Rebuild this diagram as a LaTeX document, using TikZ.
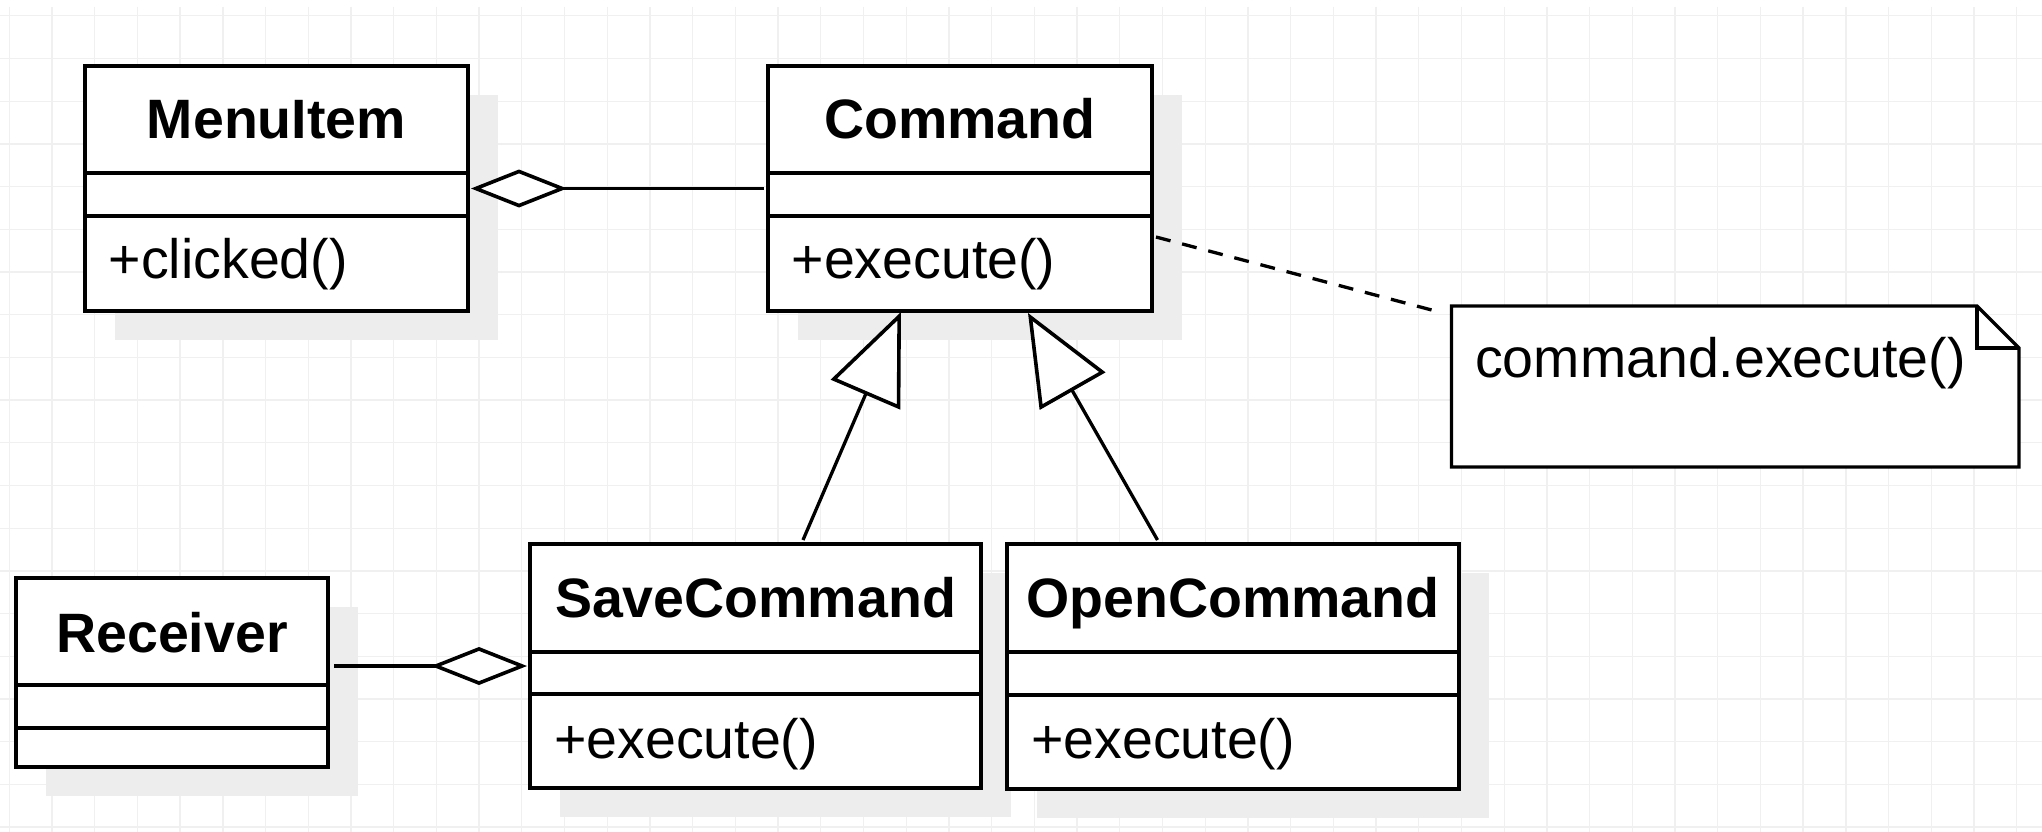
\documentclass[tikz,border=0pt]{standalone}
\usepackage{fontspec}
\setmainfont{Liberation Sans}
\usetikzlibrary{arrows.meta,shadows}

\begin{document}
\begin{tikzpicture}[x=1pt,y=-1pt,
  gridline/.style={draw=black!6, line width=1.3pt},
  classbox/.style={draw=black, line width=3.4pt, fill=white, rectangle,
    inner sep=0pt, outer sep=0pt, anchor=north west,
    drop shadow={shadow xshift=30pt, shadow yshift=-29pt, fill=black!7, opacity=1}},
  divider/.style={line width=3.4pt},
  titletext/.style={font=\fontsize{55.5}{62}\selectfont\bfseries, inner sep=0pt, anchor=base},
  optext/.style={font=\fontsize{55.5}{62}\selectfont, inner sep=0pt, anchor=base west},
  aggr/.style={line width=3.3pt,
    -{Diamond[open, fill=white, length=96pt, width=38pt, line width=3.6pt]}},
  gen/.style={line width=3.3pt,
    -{Triangle[open, fill=white, length=90pt, width=75pt, line width=3.6pt]}},
  noteline/.style={line width=3.3pt, dash pattern=on 15pt off 12pt},
  notebox/.style={draw=black, line width=3.4pt, fill=white, line join=miter}
]
\useasboundingbox (0,0) rectangle (2042,832);
\fill[white] (0,0) rectangle (2042,832);

% background grid
\foreach \i in {0,...,47}
  \draw[gridline] (9.3+42.71*\i,7) -- (9.3+42.71*\i,832);
\foreach \j in {0,...,19}
  \draw[gridline] (0,15.8+42.7*\j) -- (2042,15.8+42.7*\j);

% MenuItem
\node[classbox, minimum width=383pt, minimum height=245pt] (menu) at (85,66) {};
\draw[divider] (menu.west |- 0,173) -- (menu.east |- 0,173);
\draw[divider] (menu.west |- 0,216) -- (menu.east |- 0,216);
\node[titletext] (menu-title) at (276.5,139) {MenuItem};
\node[optext] (menu-op) at (108.5,278) {+clicked()};

% Command
\node[classbox, minimum width=384pt, minimum height=245pt] (command) at (768,66) {};
\draw[divider] (command.west |- 0,173) -- (command.east |- 0,173);
\draw[divider] (command.west |- 0,216) -- (command.east |- 0,216);
\node[titletext] (command-title) at (960,139) {Command};
\node[optext] (command-op) at (791.5,278) {+execute()};

% Receiver
\node[classbox, minimum width=312pt, minimum height=189pt] (recv) at (16,578) {};
\draw[divider] (recv.west |- 0,685) -- (recv.east |- 0,685);
\draw[divider] (recv.west |- 0,728) -- (recv.east |- 0,728);
\node[titletext] (recv-title) at (172,652) {Receiver};

% SaveCommand
\node[classbox, minimum width=451pt, minimum height=244pt] (save) at (530,544) {};
\draw[divider] (save.west |- 0,652) -- (save.east |- 0,652);
\draw[divider] (save.west |- 0,694) -- (save.east |- 0,694);
\node[titletext] (save-title) at (755.5,617) {SaveCommand};
\node[optext] (save-op) at (554,758) {+execute()};

% OpenCommand
\node[classbox, minimum width=452pt, minimum height=245pt] (open) at (1007,544) {};
\draw[divider] (open.west |- 0,652) -- (open.east |- 0,652);
\draw[divider] (open.west |- 0,695) -- (open.east |- 0,695);
\node[titletext] (open-title) at (1233,617) {OpenCommand};
\node[optext] (open-op) at (1031,758) {+execute()};

% note with folded corner
\node[inner sep=0pt, outer sep=0pt, minimum width=567.5pt, minimum height=161pt,
  anchor=north west] (note) at (1451.5,306) {};
\draw[notebox] (note.north west) -- ([xshift=-42pt]note.north east)
  -- ([yshift=-42pt]note.north east) -- (note.south east)
  -- (note.south west) -- cycle;
\draw[notebox, fill=none] ([xshift=-42pt]note.north east)
  -- ([xshift=-42pt,yshift=-42pt]note.north east)
  -- ([yshift=-42pt]note.north east);
\node[optext] (note-text) at (1475,377) {command.execute()};

% connectors
\draw[aggr, shorten >=3pt, shorten <=4pt] (command.west) -- (menu.east);
\draw[aggr, shorten >=3pt, shorten <=6pt] (recv.east |- save.west) -- (save.west);
\draw[gen] ([shift={(47.5pt,4pt)}]save.north) -- ([shift={(-59pt,-1pt)}]command.south);
\draw[gen] ([shift={(-75.5pt,4pt)}]open.north) -- ([shift={(68pt,-2pt)}]command.south);
\draw[noteline] ([shift={(4pt,-48.5pt)}]command.east) -- ([shift={(-8.5pt,-7pt)}]note.north west);
\end{tikzpicture}
\end{document}
